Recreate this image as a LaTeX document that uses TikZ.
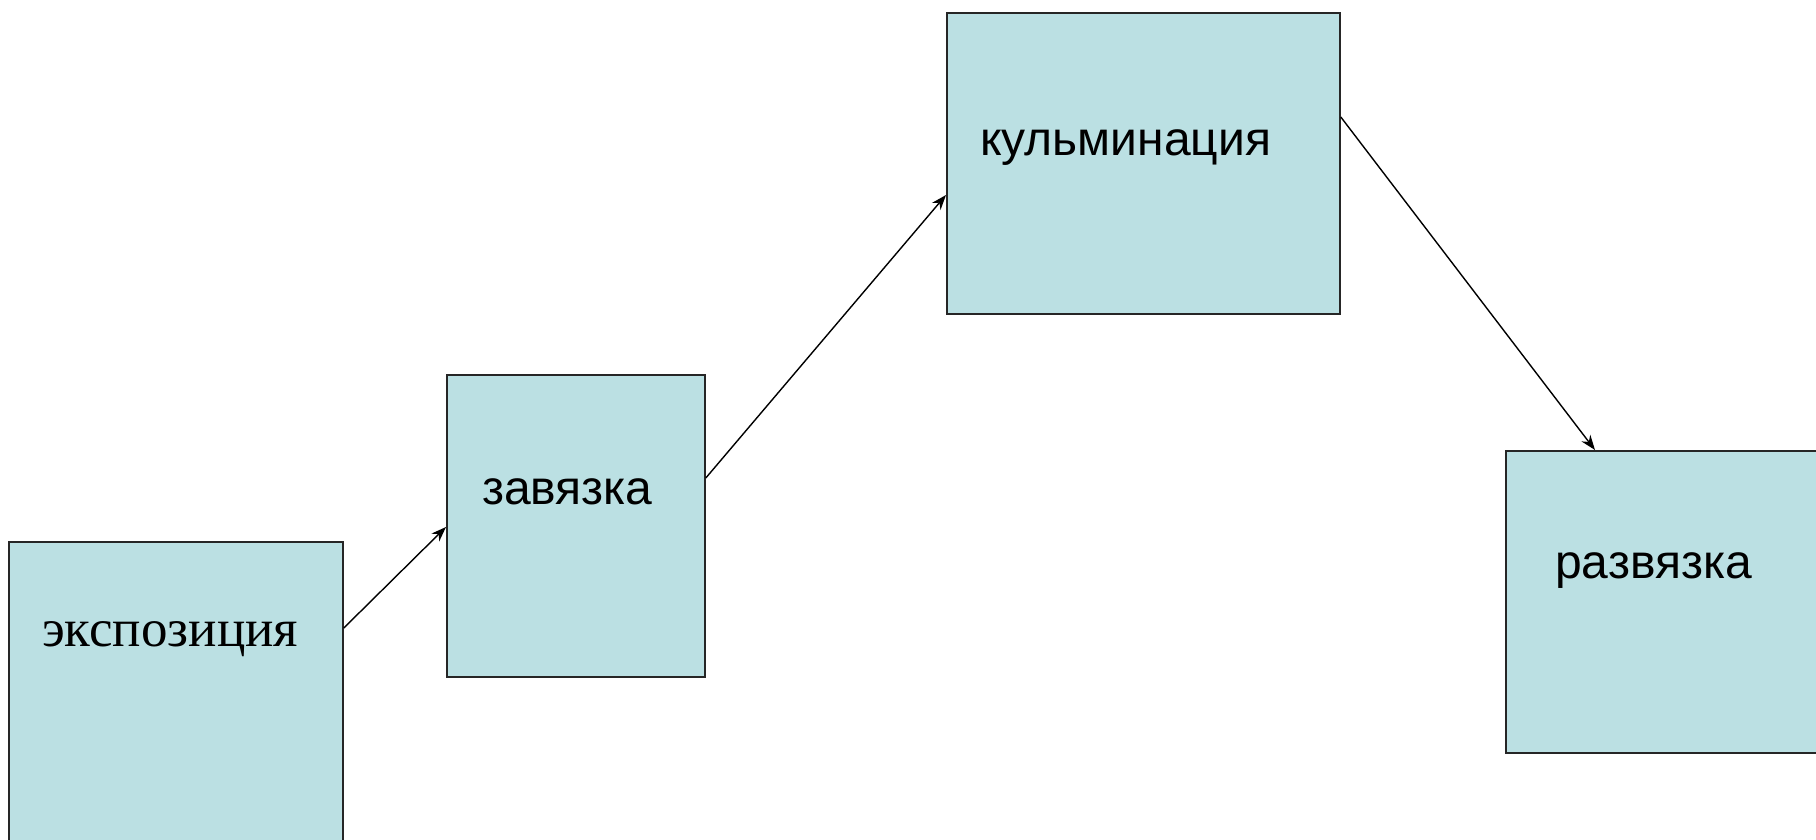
\documentclass[tikz,border=0pt]{standalone}
\usepackage{fontspec}
\setmainfont{Liberation Serif}
\newfontfamily\arialfont{Liberation Sans}
\usetikzlibrary{arrows.meta}
\definecolor{boxfill}{HTML}{BBE0E3}
\begin{document}
\begin{tikzpicture}[x=1pt,y=-1pt,
  box/.style={draw=black!85, line width=1.8pt, fill=boxfill, inner sep=0pt, anchor=north west},
  lbl/.style={anchor=base west, inner sep=0pt, font=\fontsize{53}{60}\selectfont},
  sanslbl/.style={lbl, font=\arialfont\fontsize{48}{56}\selectfont},
  arr/.style={line width=1.4pt, -{Stealth[length=15pt,width=11pt]}}]
\useasboundingbox (0,0) rectangle (1816,840);
\clip (0,0) rectangle (1816,840);
\node[box, minimum width=334pt, minimum height=320pt] (b1) at (8,541) {};
\node[box, minimum width=258pt, minimum height=302pt] (b2) at (446,374) {};
\node[box, minimum width=393pt, minimum height=301pt] (b3) at (946,12) {};
\node[box, minimum width=330pt, minimum height=302pt] (b4) at (1505,450) {};
\node[lbl] (t1) at (42,646) {экспозиция};
\node[sanslbl] (t2) at (482,504) {завязка};
\node[sanslbl] (t3) at (980,156) {кульминация};
\node[sanslbl] (t4) at (1555,578) {развязка};
\draw[arr] ([yshift=-87pt]b1.north east) -- ([yshift=-153pt]b2.north west);
\draw[arr] ([yshift=-104pt]b2.north east) -- ([yshift=-183pt]b3.north west);
\draw[arr] ([yshift=-105pt]b3.north east) -- ([xshift=90pt]b4.north west);
\end{tikzpicture}
\end{document}
